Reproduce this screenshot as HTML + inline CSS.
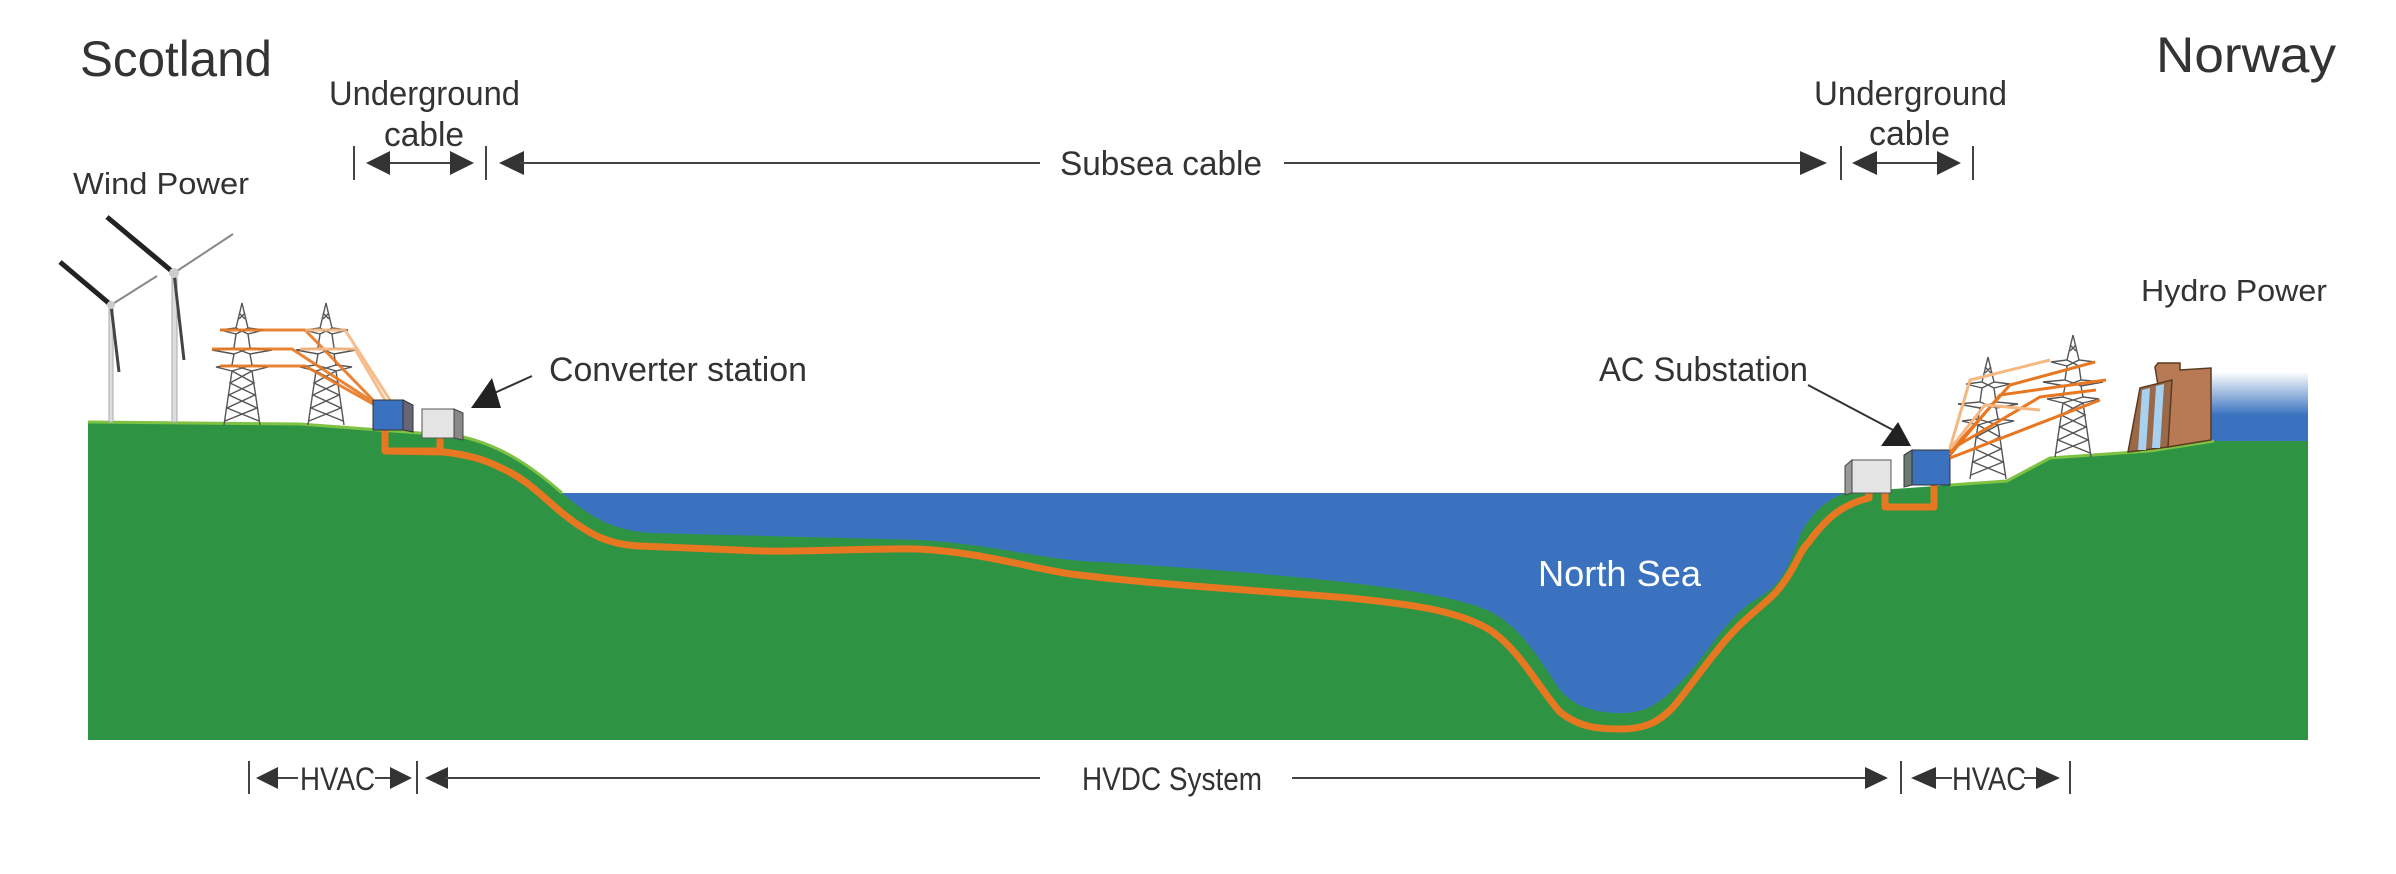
<!DOCTYPE html>
<html><head><meta charset="utf-8"><style>
html,body{margin:0;padding:0;background:#fff;}
svg{display:block;}
text{font-family:"Liberation Sans","DejaVu Sans",sans-serif;fill:#333;}
</style></head><body>
<svg width="2396" height="874" viewBox="0 0 2396 874" xmlns="http://www.w3.org/2000/svg">
<defs>
<linearGradient id="wg" x1="0" y1="0" x2="0" y2="1">
<stop offset="0" stop-color="#3a72bf" stop-opacity="0"/>
<stop offset="0.6" stop-color="#3a72bf" stop-opacity="1"/>
<stop offset="1" stop-color="#3a72bf"/>
</linearGradient>
<g id="pylon" stroke="#555" stroke-width="1.4" fill="none">
<path d="M0,0 L-6,25 L-22,27 L-6,31 L-8,45 L-30,47 L-8,51 L-10,62 L-26,64 L-10,68 L-18,122 M0,0 L6,25 L22,27 L6,31 L8,45 L30,47 L8,51 L10,62 L26,64 L10,68 L18,122"/>
<path d="M-6,25 L6,31 M6,25 L-6,31 M-8,45 L8,51 M8,45 L-8,51 M-10,62 L10,68 M10,62 L-10,68 M-10,68 L12,80 L-13,92 L15,105 L-17,118 M10,68 L-12,80 L13,92 L-15,105 L17,118 M-3,10 L3,16 M3,10 L-3,16"/>
</g>
</defs>

<!-- water -->
<rect x="540" y="493" width="1320" height="240" fill="#3a72bf"/>
<rect x="2210" y="372" width="98" height="72" fill="url(#wg)"/>

<!-- land -->
<path d="M88,422 L300,424 L459,436 C500,445 530,465 562,493 C600,525 620,530 650,533 L920,540 C1000,545 1040,560 1100,562 C1250,572 1430,585 1487,610 C1520,625 1540,660 1560,690 C1575,708 1600,714 1625,713 C1650,712 1665,700 1693,669 C1715,640 1735,610 1760,597 C1780,585 1788,570 1800,535 C1810,515 1825,500 1845,493 L1880,490 L1950,485 L2007,481 L2050,458 L2150,451 L2214,441 L2308,441 L2308,740 L88,740 Z" fill="#2e9444"/>
<path d="M88,422 L300,424 L459,436 C500,445 530,465 562,493" fill="none" stroke="#7dc242" stroke-width="3"/>
<path d="M1950,485 L2007,481 L2050,458 L2150,451 L2214,441" fill="none" stroke="#7dc242" stroke-width="3"/>

<!-- cable -->
<g fill="none" stroke="#e87722" stroke-width="7" stroke-linejoin="round">
<path d="M385,430 L385,451 L440,451 L440,432"/>
<path d="M385,451 L444,452 C470,455 485,460 497,466 C530,480 545,500 566,516 C590,535 610,545 640,546 L760,551 C800,552 880,548 918,549 C980,552 1030,568 1071,574 C1150,584 1250,590 1349,598 C1420,605 1460,612 1490,630 C1520,650 1540,690 1560,712 C1580,728 1600,729 1621,729 C1645,729 1660,722 1675,705 C1695,680 1705,665 1716,652 C1740,620 1765,605 1777,591 C1795,570 1800,550 1808,543 C1825,520 1840,505 1869,498 L1869,485"/>
<path d="M1885,485 L1885,507 L1934,507 L1934,485"/>
</g>

<!-- wind turbines -->
<g>
<rect x="109" y="305" width="4" height="117" fill="#ddd" stroke="#aaa" stroke-width="1"/>
<line x1="111" y1="305" x2="60" y2="262" stroke="#222" stroke-width="5"/>
<line x1="111" y1="305" x2="157" y2="276" stroke="#888" stroke-width="2"/>
<line x1="111" y1="305" x2="119" y2="372" stroke="#444" stroke-width="3"/>
<circle cx="111" cy="305" r="4" fill="#ccc"/>
<rect x="172" y="273" width="5" height="149" fill="#ddd" stroke="#aaa" stroke-width="1"/>
<line x1="174" y1="273" x2="107" y2="217" stroke="#222" stroke-width="5"/>
<line x1="174" y1="273" x2="233" y2="234" stroke="#888" stroke-width="2"/>
<line x1="174" y1="273" x2="184" y2="360" stroke="#444" stroke-width="3"/>
<circle cx="174" cy="273" r="5" fill="#ccc"/>
</g>

<!-- left pylons -->
<use href="#pylon" transform="translate(242,303)"/>
<use href="#pylon" transform="translate(326,303)"/>
<g stroke="#e87722" stroke-width="3" fill="none" opacity="0.9">
<path d="M220,330 L305,330 L373,400"/>
<path d="M212,349 L292,349 L373,402"/>
<path d="M220,366 L305,366 L373,404"/>
<path d="M305,330 L345,330 L390,400" stroke="#f5b880"/>
<path d="M300,349 L355,349 L385,400" stroke="#f5b880"/>
</g>

<!-- left stations -->
<rect x="373" y="400" width="30" height="30" fill="#3a72bf" stroke="#333" stroke-width="1"/>
<path d="M403,400 L413,405 L413,432 L403,430 Z" fill="#667" stroke="#333" stroke-width="1"/>
<rect x="422" y="409" width="32" height="29" fill="#e4e4e4" stroke="#555" stroke-width="1"/>
<path d="M454,409 L463,413 L463,440 L454,438 Z" fill="#888" stroke="#444" stroke-width="1"/>

<!-- right stations -->
<rect x="1852" y="460" width="39" height="33" fill="#e4e4e4" stroke="#555" stroke-width="1"/>
<path d="M1845,466 L1852,460 L1852,493 L1845,495 Z" fill="#999" stroke="#444" stroke-width="1"/>
<rect x="1912" y="450" width="38" height="35" fill="#3a72bf" stroke="#333" stroke-width="1"/>
<path d="M1904,455 L1912,450 L1912,485 L1904,487 Z" fill="#6a7a70" stroke="#333" stroke-width="1"/>

<!-- right pylons -->
<use href="#pylon" transform="translate(1988,357)"/>
<use href="#pylon" transform="translate(2073,335)"/>
<g stroke="#e87722" stroke-width="3" fill="none">
<path d="M1950,452 L2010,385 L2095,362"/>
<path d="M1950,455 L2000,395 L2106,380"/>
<path d="M1950,458 L2100,400"/>
<path d="M1950,450 L2040,397 L2096,390"/>
<path d="M1950,448 L1970,380 L2050,360" stroke="#f5b880"/>
<path d="M1950,449 L1985,405 L2040,410" stroke="#f5b880"/>
</g>

<!-- dam -->
<path d="M2155,367 L2158,363 L2180,363 L2180,370 L2211,368 L2211,440 L2168,447 Z" fill="#b87a55" stroke="#5a3a22" stroke-width="1.5"/>
<path d="M2140,388 L2172,380 L2168,447 L2128,452 Z" fill="#9a6a48" stroke="#5a3a22" stroke-width="1.5"/>
<path d="M2142,390 L2150,388 L2146,450 L2138,450 Z M2156,386 L2164,384 L2160,448 L2152,448 Z" fill="#a8d0f0"/>

<!-- top dimension lines -->
<g stroke="#444" stroke-width="2" fill="#333">
<line x1="354" y1="146" x2="354" y2="180"/>
<line x1="486" y1="146" x2="486" y2="180"/>
<line x1="380" y1="163" x2="460" y2="163"/>
<path d="M366,163 L390,151 L390,175 Z" stroke="none"/>
<path d="M474,163 L450,151 L450,175 Z" stroke="none"/>
<path d="M499,163 L524,151 L524,175 Z" stroke="none"/>
<line x1="520" y1="163" x2="1040" y2="163"/>
<line x1="1284" y1="163" x2="1805" y2="163"/>
<path d="M1827,163 L1800,151 L1800,175 Z" stroke="none"/>
<line x1="1841" y1="146" x2="1841" y2="180"/>
<line x1="1973" y1="146" x2="1973" y2="180"/>
<line x1="1870" y1="163" x2="1945" y2="163"/>
<path d="M1852,163 L1877,151 L1877,175 Z" stroke="none"/>
<path d="M1961,163 L1937,151 L1937,175 Z" stroke="none"/>
</g>

<!-- bottom dimension lines -->
<g stroke="#444" stroke-width="2" fill="#333">
<line x1="249" y1="761" x2="249" y2="794"/>
<path d="M256,778 L278,767 L278,789 Z" stroke="none"/>
<line x1="278" y1="778" x2="298" y2="778"/>
<line x1="375" y1="778" x2="392" y2="778"/>
<path d="M412,778 L390,767 L390,789 Z" stroke="none"/>
<line x1="417" y1="761" x2="417" y2="794"/>
<path d="M425,778 L448,767 L448,789 Z" stroke="none"/>
<line x1="445" y1="778" x2="1040" y2="778"/>
<line x1="1292" y1="778" x2="1870" y2="778"/>
<path d="M1888,778 L1865,767 L1865,789 Z" stroke="none"/>
<line x1="1901" y1="761" x2="1901" y2="794"/>
<path d="M1911,778 L1936,767 L1936,789 Z" stroke="none"/>
<line x1="1936" y1="778" x2="1952" y2="778"/>
<line x1="2024" y1="778" x2="2038" y2="778"/>
<path d="M2060,778 L2036,767 L2036,789 Z" stroke="none"/>
<line x1="2070" y1="761" x2="2070" y2="794"/>
</g>

<!-- callout arrows -->
<line x1="532" y1="376" x2="490" y2="395" stroke="#333" stroke-width="2"/>
<path d="M471,408 L501,408 L492,378 Z" fill="#222"/>
<line x1="1808" y1="385" x2="1893" y2="430" stroke="#333" stroke-width="2"/>
<path d="M1881,446 L1911,446 L1898,422 Z" fill="#222"/>

<!-- text -->
<text x="80" y="76" font-size="50" textLength="192" lengthAdjust="spacingAndGlyphs">Scotland</text>
<text x="2156" y="72" font-size="50" textLength="180" lengthAdjust="spacingAndGlyphs">Norway</text>
<text x="329" y="105" font-size="34" textLength="191" lengthAdjust="spacingAndGlyphs">Underground</text>
<text x="384" y="146" font-size="34" textLength="80" lengthAdjust="spacingAndGlyphs">cable</text>
<text x="1814" y="105" font-size="34" textLength="193" lengthAdjust="spacingAndGlyphs">Underground</text>
<text x="1869" y="145" font-size="34" textLength="81" lengthAdjust="spacingAndGlyphs">cable</text>
<text x="1060" y="175" font-size="34" textLength="202" lengthAdjust="spacingAndGlyphs">Subsea cable</text>
<text x="73" y="194" font-size="31" textLength="176" lengthAdjust="spacingAndGlyphs">Wind Power</text>
<text x="2141" y="301" font-size="31" textLength="186" lengthAdjust="spacingAndGlyphs">Hydro Power</text>
<text x="549" y="381" font-size="34" textLength="258" lengthAdjust="spacingAndGlyphs">Converter station</text>
<text x="1599" y="381" font-size="34" textLength="209" lengthAdjust="spacingAndGlyphs">AC Substation</text>
<text x="1538" y="586" font-size="36" fill="#fff" style="fill:#fff" textLength="163" lengthAdjust="spacingAndGlyphs">North Sea</text>
<text x="300" y="790" font-size="32" textLength="75" lengthAdjust="spacingAndGlyphs">HVAC</text>
<text x="1952" y="790" font-size="32" textLength="74" lengthAdjust="spacingAndGlyphs">HVAC</text>
<text x="1082" y="790" font-size="32" textLength="180" lengthAdjust="spacingAndGlyphs">HVDC System</text>
</svg>
</body></html>
